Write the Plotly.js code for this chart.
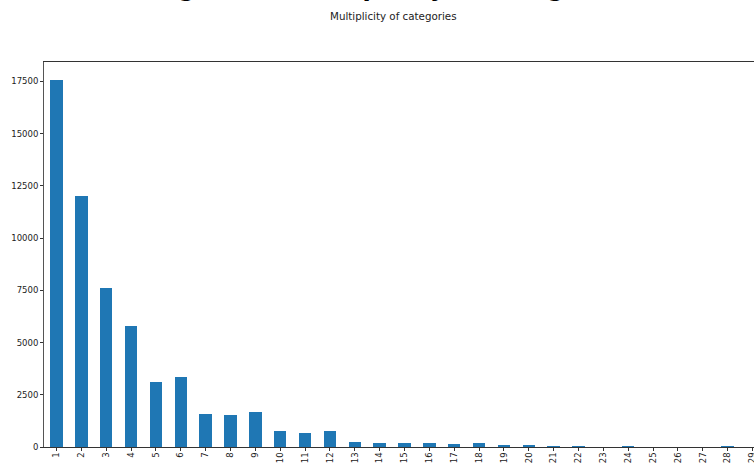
<!DOCTYPE html>
<html>
<head>
<meta charset="utf-8">
<script src="https://cdn.plot.ly/plotly-3.0.1.min.js"></script>
<style>
html, body { margin: 0; padding: 0; overflow: hidden; background: #fff; }
#chart { width: 780px; height: 463px; }
</style>
</head>
<body>
<div id="chart"></div>
<script>
var categories = ['1','2','3','4','5','6','7','8','9','10','11','12','13','14','15','16','17','18','19','20','21','22','23','24','25','26','27','28','29'];
var counts = [17550, 12020, 7610, 5790, 3125, 3350, 1595, 1550, 1675, 760, 680, 760, 260, 215, 215, 215, 145, 215, 110, 105, 60, 55, 5, 55, 3, 3, 3, 50, 3];
var yTicks = [0, 2500, 5000, 7500, 10000, 12500, 15000, 17500];
var mainTitle = 'Histogram of multiplicity of categories';
var subTitle = 'Multiplicity of categories';

var trace = {
  type: 'bar',
  x: categories,
  y: counts,
  width: 0.5,
  marker: { color: '#1f77b4', line: { width: 0 } },
  hoverinfo: 'x+y'
};

var layout = {
  width: 780,
  height: 463,
  margin: { l: 44, r: 15, t: 62, b: 16, pad: 0 },
  paper_bgcolor: '#ffffff',
  plot_bgcolor: '#ffffff',
  showlegend: false,
  font: { family: 'DejaVu Sans', size: 8.5, color: '#222' },
  bargap: 0,
  xaxis: {
    type: 'category',
    range: [-0.5, 28.5],
    showgrid: false,
    zeroline: false,
    showline: true,
    linecolor: '#333',
    linewidth: 1,
    mirror: true,
    ticks: 'outside',
    ticklen: 3,
    tickcolor: '#333',
    tickangle: -90,
    ticklabelstandoff: -2,
    tickfont: { family: 'DejaVu Sans', size: 8.5, color: '#222' },
    automargin: false
  },
  yaxis: {
    range: [0, 18429],
    tickvals: yTicks,
    ticktext: yTicks.map(String),
    showgrid: false,
    zeroline: false,
    showline: true,
    linecolor: '#555',
    linewidth: 1,
    mirror: true,
    ticks: 'outside',
    ticklen: 3,
    tickcolor: '#333',
    tickfont: { family: 'DejaVu Sans', size: 8.5, color: '#222' },
    automargin: false
  },
  annotations: [
    {
      text: '<b>' + mainTitle + '</b>',
      xref: 'paper', yref: 'paper',
      x: (370 - 44) / 721, y: 1,
      xanchor: 'center', yanchor: 'bottom',
      yshift: 58,
      showarrow: false,
      font: { family: 'DejaVu Sans', size: 24, color: '#000' }
    },
    {
      text: subTitle,
      xref: 'paper', yref: 'paper',
      x: (393 - 44) / 721, y: 1,
      xanchor: 'center', yanchor: 'middle',
      yshift: 46,
      showarrow: false,
      font: { family: 'DejaVu Sans', size: 10.3, color: '#222' }
    }
  ]
};

Plotly.newPlot('chart', [trace], layout, { displayModeBar: false, staticPlot: true });
</script>
</body>
</html>
